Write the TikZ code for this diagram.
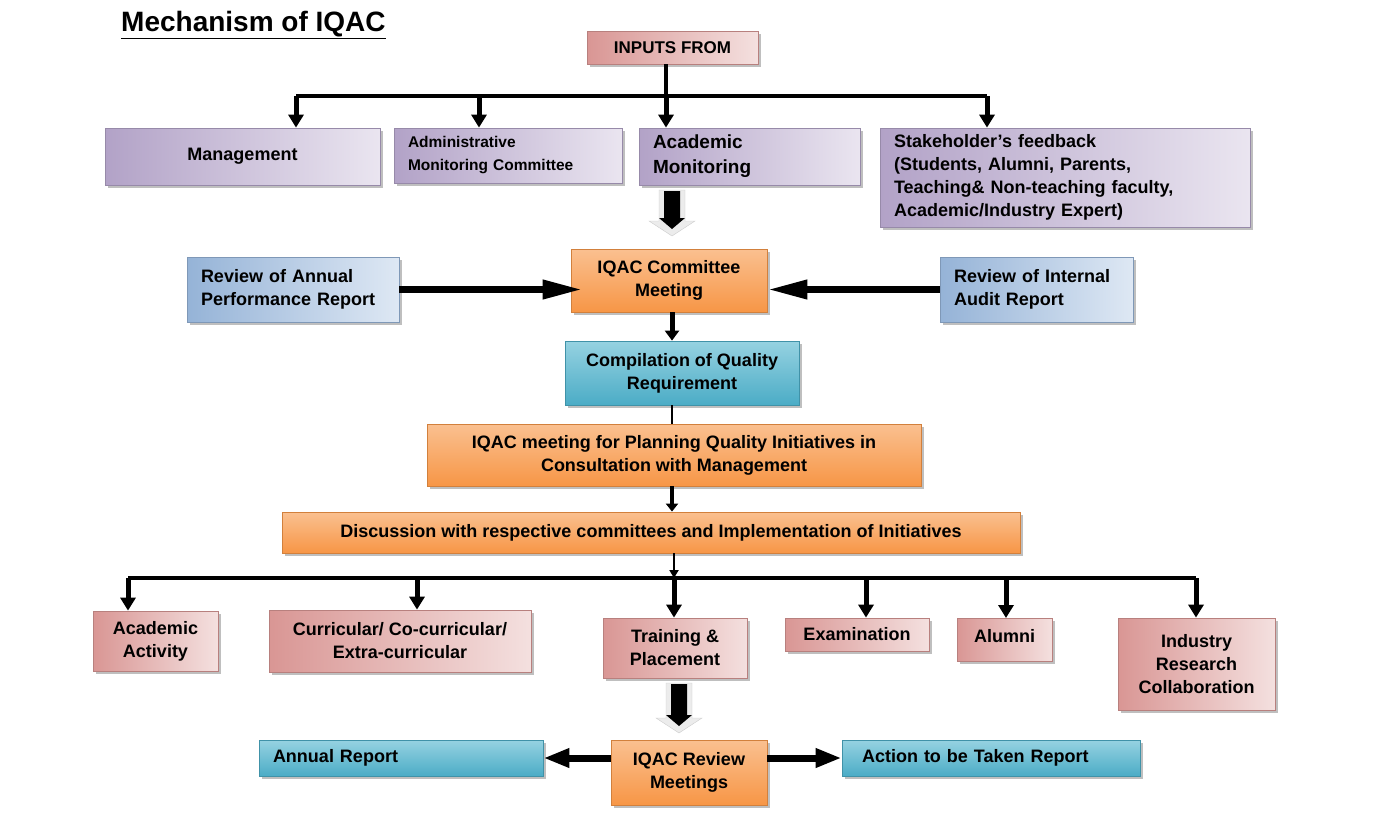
\documentclass[tikz,border=0pt]{standalone}
\usepackage{fontspec}
\setmainfont{Liberation Sans}
\usetikzlibrary{arrows.meta,shadows}

\definecolor{purpD}{RGB}{178,162,199}
\definecolor{purpL}{RGB}{234,229,240}
\definecolor{pinkD}{RGB}{217,150,148}
\definecolor{pinkL}{RGB}{244,224,223}
\definecolor{blueD}{RGB}{149,179,215}
\definecolor{blueL}{RGB}{222,232,244}
\definecolor{tealD}{RGB}{75,172,198}
\definecolor{tealL}{RGB}{150,210,225}
\definecolor{orngD}{RGB}{247,150,70}
\definecolor{orngL}{RGB}{250,192,144}

\begin{document}
\begin{tikzpicture}[x=1pt,y=-1pt,
	box/.style={rectangle, line width=0.8pt, align=center, inner ysep=3pt,
		font=\bfseries\fontsize{18}{23}\selectfont,
		drop shadow={shadow xshift=3pt,shadow yshift=-3pt,fill=black!50,opacity=0.5}},
	purpbox/.style={box, draw=purpD!85!black, left color=purpD, right color=purpL},
	pinkbox/.style={box, draw=pinkD!85!black, left color=pinkD, right color=pinkL},
	bluebox/.style={box, draw=blueD!85!black, left color=blueD, right color=blueL},
	tealbox/.style={box, draw=tealD!85!black, top color=tealL, bottom color=tealD},
	orngbox/.style={box, draw=orngD!85!black, top color=orngL, bottom color=orngD},
	lbox/.style={align=left, text width=#1, inner xsep=14pt},
	bus/.style={line width=4pt},
	busarr/.style={line width=5pt, -{Triangle[length=13pt,width=15pt]}},
	fatarr/.style={line width=7pt, -{Triangle[length=40pt,width=18pt]}},
	thinarr/.style={line width=2.5pt, -{Triangle[length=8pt,width=9pt]}}]
	\newcommand\FatDown[2]{% top point, length
		\filldraw[fill=gray!15, draw=gray!40] (#1) ++(-13,0) -- ++(26,0) -- ++(0,#2-15) -- ++(10,0)
			-- ++(-23,15) -- ++(-23,-15) -- ++(10,0) -- cycle;
		\fill (#1) ++(-8,1) -- ++(16,0) -- ++(0,#2-19) -- ++(5,0) -- ++(-13,11) -- ++(-13,-11) -- ++(5,0) -- cycle;}

	\useasboundingbox (0,0) rectangle (1376,814);

	% title and inputs
	\node[font=\bfseries\fontsize{28}{30}\selectfont, anchor=base west, inner sep=0pt] (title) at (121,31) {\underline{Mechanism of IQAC}};
	\node[pinkbox, minimum width=171, minimum height=33, font=\bfseries\fontsize{17}{21}\selectfont] (inputs) at (672.5,47.5) {INPUTS FROM};

	\node[purpbox, minimum width=275, minimum height=57] (mgmt) at (242.5,156.5) {Management};
	\node[purpbox, lbox=200, minimum height=55, font=\bfseries\fontsize{15.5}{23}\selectfont] (admin) at (508,155.5) {Administrative\\Monitoring Committee};
	\node[purpbox, lbox=193, minimum height=57, font=\bfseries\fontsize{19}{25}\selectfont] (acad) at (749.5,156.5) {Academic\\Monitoring};
	\node[purpbox, lbox=342, minimum height=99] (stake) at (1065,177.5) {Stakeholder’s feedback\\(Students, Alumni, Parents,\\Teaching\& Non-teaching faculty,\\Academic/Industry Expert)};

	% committee meeting
	\node[bluebox, lbox=184, minimum height=65] (rapr) at (293,289.5) {Review of Annual\\Performance Report};
	\node[orngbox, minimum width=196, minimum height=63] (iqacm) at (669,280.5) {IQAC Committee\\Meeting};
	\node[bluebox, lbox=165, minimum height=65] (riar) at (1036.5,289.5) {Review of Internal\\Audit Report};
	\node[tealbox, minimum width=234, minimum height=64] (compil) at (682,373) {Compilation of Quality\\Requirement};
	\node[orngbox, minimum width=494, minimum height=62] (plan) at (674,455) {IQAC meeting for Planning Quality Initiatives in\\Consultation with Management};
	\node[orngbox, minimum width=738, minimum height=41] (disc) at (651,532.5) {Discussion with respective committees and Implementation of Initiatives};

	% committees
	\node[pinkbox, minimum width=125, minimum height=60] (acact) at (155.5,641) {Academic\\Activity};
	\node[pinkbox, minimum width=262, minimum height=62] (curr) at (400,641) {Curricular/ Co-curricular/\\Extra-curricular};
	\node[pinkbox, minimum width=144, minimum height=60] (train) at (675,648) {Training \&\\Placement};
	\node[pinkbox, minimum width=144, minimum height=33] (exam) at (857,634.5) {Examination};
	\node[pinkbox, minimum width=95, inner ysep=4pt, text height=20pt, text depth=15pt, anchor=north] (alum) at (1004.5,618) {Alumni};
	\node[pinkbox, minimum width=157, minimum height=92] (ind) at (1196.5,664) {Industry\\Research\\Collaboration};

	% review
	\node[orngbox, minimum width=156, minimum height=65] (review) at (689,772.5) {IQAC Review\\Meetings};
	\node[tealbox, lbox=256, minimum height=36] (annual) at (401,758) {Annual Report};
	\node[tealbox, lbox=258, inner xsep=20pt, minimum height=36] (action) at (991,758) {Action to be Taken Report};

	% inputs bus
	\coordinate (busT) at (666,96);
	\draw[bus] (inputs.south -| busT) -- (busT);
	\coordinate (tMgmt) at (296,96);
	\coordinate (tAdm) at (479,96);
	\coordinate (tStk) at (987,96);
	\draw[bus] (tMgmt) -- (tStk);
	\draw[busarr] (tMgmt) -- (tMgmt |- mgmt.north);
	\draw[busarr] (tAdm) -- (tAdm |- admin.north);
	\draw[busarr] (busT) -- (busT |- acad.north);
	\draw[busarr] (tStk) -- (tStk |- stake.north);
	\coordinate (fa1) at (672,190);
	\FatDown{fa1}{46}

	% into the meeting
	\draw[fatarr, shorten >=-12pt] (rapr.east) -- (rapr.east -| iqacm.west);
	\draw[fatarr] (riar.west) -- (riar.west -| iqacm.east);
	\coordinate (cx) at (672,0);
	\draw[line width=5pt, -{Triangle[length=10pt,width=14pt]}] (cx |- iqacm.south) -- (cx |- compil.north);
	\draw[line width=2.5pt] (cx |- compil.south) -- (cx |- plan.north);
	\draw[line width=4pt, -{Triangle[length=8pt,width=12pt]}] (cx |- plan.south) -- (cx |- disc.north);

	% committees bus
	\coordinate (busB) at (674,578);
	\draw[thinarr] (busB |- disc.south) -- (busB);
	\draw[bus] (128,578) -- (1196,578);
	\foreach \x/\n in {128/acact,417/curr,674/train,866/exam,1006/alum,1196/ind}{
		\coordinate (b-\n) at (\x,578);
		\draw[busarr] (b-\n) -- (b-\n |- \n.north);
	}
	\coordinate (fa2) at (679,683);
	\FatDown{fa2}{50}

	% reports
	\draw[line width=7pt, -{Triangle[length=26pt,width=18pt]}] (review.west |- annual.east) -- (annual.east);
	\draw[line width=7pt, -{Triangle[length=26pt,width=18pt]}] (review.east |- action.west) -- (action.west);
\end{tikzpicture}
\end{document}
